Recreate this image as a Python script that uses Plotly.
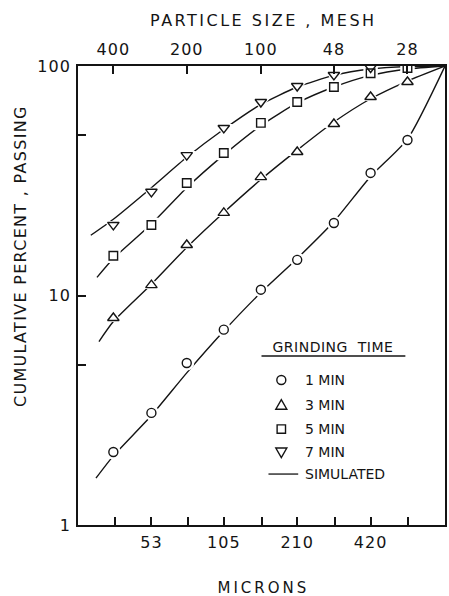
import plotly.graph_objects as go

# ---------------- data ----------------
sizes = [37, 53, 74, 105, 149, 210, 297, 420, 595]          # microns (sieve sizes)
t1_min = [2.08, 3.08, 5.08, 7.1, 10.6, 14.3, 20.7, 34.2, 47.6]
t3_min = [7.98, 11.1, 16.6, 22.9, 32.8, 42.2, 55.9, 73.3, 85.2]
t5_min = [14.9, 20.3, 30.9, 41.8, 56.5, 69.7, 81.0, 93.0, 98.0]
t7_sizes = [37, 53, 74, 105, 149, 210, 297, 420]
t7_min = [20.3, 28.3, 40.9, 53.7, 69.7, 81.8, 91.4, 98.5]

sim1_x = [31.4, 37, 53, 74, 105, 149, 210, 297, 420, 595, 848]
sim1_y = [1.6, 2.0, 3.0, 4.6, 7.0, 10.3, 14.5, 21.0, 33.0, 48.0, 100.0]
sim3_x = [32.3, 37, 53, 74, 105, 149, 210, 297, 420, 595, 848]
sim3_y = [6.3, 7.7, 11.2, 16.2, 23.0, 32.0, 43.0, 57.0, 72.0, 86.0, 100.0]
sim5_x = [31.7, 37, 53, 74, 105, 149, 210, 297, 420, 595, 848]
sim5_y = [12.0, 14.5, 20.5, 29.5, 41.0, 55.0, 69.0, 81.0, 91.0, 97.0, 100.0]
sim7_x = [29.9, 37, 53, 74, 105, 149, 210, 297, 420, 595, 848]
sim7_y = [18.3, 21.5, 29.5, 40.0, 53.0, 68.0, 81.0, 91.0, 97.0, 99.5, 100.0]

micron_ticks = [37.5, 53, 75, 105, 150, 210, 300, 420, 600]
micron_labels = ["", "53", "", "105", "", "210", "", "420", ""]
mesh_ticks = [37, 74, 149, 297, 595]
mesh_labels = ["400", "200", "100", "48", "28"]
y_ticks = [1, 5, 10, 50, 100]
y_labels = ["1", "", "10", "", "100"]

legend_labels = ["1 MIN", "3 MIN", "5 MIN", "7 MIN", "SIMULATED"]

INK = "#141414"
FONT = "DejaVu Sans"
X_RANGE = [1.4232, 2.9284]

fig = go.Figure()

# simulated curves
for sx, sy in [(sim1_x, sim1_y), (sim3_x, sim3_y), (sim5_x, sim5_y), (sim7_x, sim7_y)]:
    fig.add_trace(go.Scatter(x=sx, y=sy, mode="lines",
                             line=dict(color=INK, width=1.4, shape="spline", smoothing=0.6),
                             showlegend=False, hoverinfo="skip"))

series = [
    (sizes, t1_min, "circle-open", 9),
    (sizes, t3_min, "triangle-up-open", 10),
    (sizes, t5_min, "square-open", 8.5),
    (t7_sizes, t7_min, "triangle-down-open", 10),
]
# white halos (gaps in lines around markers)
for sx, sy, sym, sz in series:
    fig.add_trace(go.Scatter(x=sx, y=sy, mode="markers",
                             marker=dict(symbol=sym.replace("-open", ""), size=sz + 6,
                                         color="white", line=dict(width=0)),
                             showlegend=False, hoverinfo="skip"))
for sx, sy, sym, sz in series:
    fig.add_trace(go.Scatter(x=sx, y=sy, mode="markers",
                             marker=dict(symbol=sym, size=sz, color=INK,
                                         line=dict(width=1.4, color=INK)),
                             showlegend=False))

# invisible trace to activate the top (mesh) axis
fig.add_trace(go.Scatter(x=mesh_ticks, y=[10] * len(mesh_ticks), xaxis="x2", yaxis="y",
                         mode="markers", marker=dict(opacity=0), showlegend=False,
                         hoverinfo="skip"))

axis_common = dict(type="log", showgrid=False, zeroline=False, showline=True,
                   linecolor=INK, linewidth=1.8, ticks="inside", ticklen=8,
                   tickwidth=1.5, tickcolor=INK,
                   tickfont=dict(family=FONT, size=16, color=INK))

fig.update_layout(
    width=449, height=596,
    margin=dict(l=78, r=2, t=66, b=71),
    paper_bgcolor="white", plot_bgcolor="white",
    showlegend=False,
    xaxis=dict(axis_common, range=X_RANGE, tickvals=micron_ticks, ticktext=micron_labels,
               mirror=True, ticklabelstandoff=2),
    xaxis2=dict(axis_common, range=X_RANGE, tickvals=mesh_ticks, ticktext=mesh_labels,
                overlaying="x", side="top", anchor="y", ticklabelstandoff=3),
    yaxis=dict(axis_common, range=[0, 2], tickvals=y_ticks, ticktext=y_labels,
               mirror=True, ticklabelstandoff=2),
)

ann = [
    dict(text="PARTICLE SIZE , MESH", x=0.505, y=1.100, size=16),
    dict(text="MICRONS", x=0.505, y=-0.137, size=15),
]
for a in ann:
    fig.add_annotation(text=a["text"], x=a["x"], y=a["y"], xref="paper", yref="paper",
                       showarrow=False, xanchor="center", yanchor="middle",
                       font=dict(family=FONT, size=a["size"], color=INK))
fig.add_annotation(text="CUMULATIVE PERCENT , PASSING", x=-0.157, y=0.585,
                   xref="paper", yref="paper", showarrow=False, textangle=-90,
                   xanchor="center", yanchor="middle",
                   font=dict(family=FONT, size=16, color=INK))

# legend block
fig.add_annotation(text="GRINDING  TIME", x=0.695, y=0.388, xref="paper", yref="paper",
                   showarrow=False, xanchor="center", yanchor="middle",
                   font=dict(family=FONT, size=14, color=INK))
fig.add_shape(type="line", xref="paper", yref="paper", x0=0.50, x1=0.892, y0=0.368, y1=0.368,
              line=dict(color=INK, width=1.5))

row_y = [0.316, 0.261, 0.209, 0.159, 0.111]
sym_x = 0.554
text_x = 0.614
for lab, yy in zip(legend_labels, row_y):
    fig.add_annotation(text=lab, x=text_x, y=yy, xref="paper", yref="paper",
                       showarrow=False, xanchor="left", yanchor="middle",
                       font=dict(family=FONT, size=14, color=INK))

sh = dict(xref="paper", yref="paper", xsizemode="pixel", ysizemode="pixel",
          line=dict(color=INK, width=1.4), fillcolor="rgba(0,0,0,0)")
fig.add_shape(type="circle", xanchor=sym_x, yanchor=row_y[0], x0=-4.5, x1=4.5, y0=-4.5, y1=4.5, **sh)
fig.add_shape(type="path", xanchor=sym_x, yanchor=row_y[1], path="M -5.5 -4 L 5.5 -4 L 0 5.5 Z", **sh)
fig.add_shape(type="rect", xanchor=sym_x, yanchor=row_y[2], x0=-4.2, x1=4.2, y0=-4.2, y1=4.2, **sh)
fig.add_shape(type="path", xanchor=sym_x, yanchor=row_y[3], path="M -5.5 4 L 5.5 4 L 0 -5.5 Z", **sh)
fig.add_shape(type="line", xref="paper", yref="paper", x0=0.519, x1=0.600,
              y0=row_y[4], y1=row_y[4], line=dict(color=INK, width=1.3))

# wider letter spacing, like the stencil lettering of the original
post = """
var gd = document.getElementById('{plot_id}');
var spacing = {"PARTICLE SIZE , MESH": "2.5px", "MICRONS": "3px",
               "CUMULATIVE PERCENT , PASSING": "1.3px", "GRINDING  TIME": "0.5px"};
gd.querySelectorAll('text').forEach(function(t){
  var s = spacing[t.textContent];
  if (s) { t.style.letterSpacing = s; }
  else if (t.closest('.xtick') || t.closest('.x2tick') || t.closest('.ytick')) {
    t.style.letterSpacing = '1px';
  }
});
"""

fig.write_html("out.html", post_script=post)
